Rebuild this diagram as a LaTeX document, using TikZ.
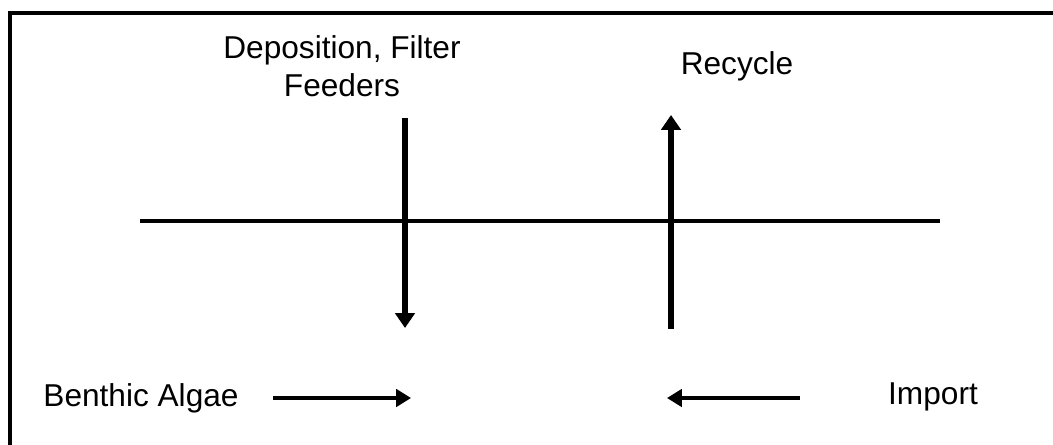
\documentclass[tikz,border=0pt]{standalone}
\usepackage{fontspec}
\setmainfont{Liberation Sans}
\usetikzlibrary{arrows.meta}
\begin{document}
\begin{tikzpicture}[x=0.02cm,y=-0.02cm,
    lbl/.style={font=\fontsize{18}{21.6}\selectfont,align=center,inner sep=0pt},
    flux/.style={line width=3.2pt,-{Triangle[length=8.5pt,width=11pt]}},
    feed/.style={line width=1.8pt,-{Triangle[length=8.5pt,width=10pt]}}]
      \useasboundingbox (0,0) rectangle (1053,445);
      \draw[line width=1.8pt] (10,13) rectangle (1070,460);
      \draw
        (342,66) node[lbl] (depo){Deposition, Filter\\Feeders}
        (737,66) node[lbl] (recy){Recycle}
        (141,398) node[lbl] (algae){Benthic Algae}
        (933,397) node[lbl] (imp){Import};
      \coordinate (sl) at (140,221);
      \coordinate (sr) at (940,221);
      \coordinate (dtop) at (405,118);
      \coordinate (dbot) at (405,328);
      \coordinate (rbot) at (671,329);
      \coordinate (rtop) at (671,115);
      \coordinate (aout) at (273,398);
      \coordinate (ain) at (411,398);
      \coordinate (iout) at (800,398);
      \coordinate (iin) at (667,398);
      \begin{scope}[-]
        \draw[line width=2pt] (sl) to (sr);
        \draw[flux] (dtop) to (dbot);
        \draw[flux] (rbot) to (rtop);
        \draw[feed] (aout) to (ain);
        \draw[feed] (iout) to (iin);
      \end{scope}
    \end{tikzpicture}
\end{document}
